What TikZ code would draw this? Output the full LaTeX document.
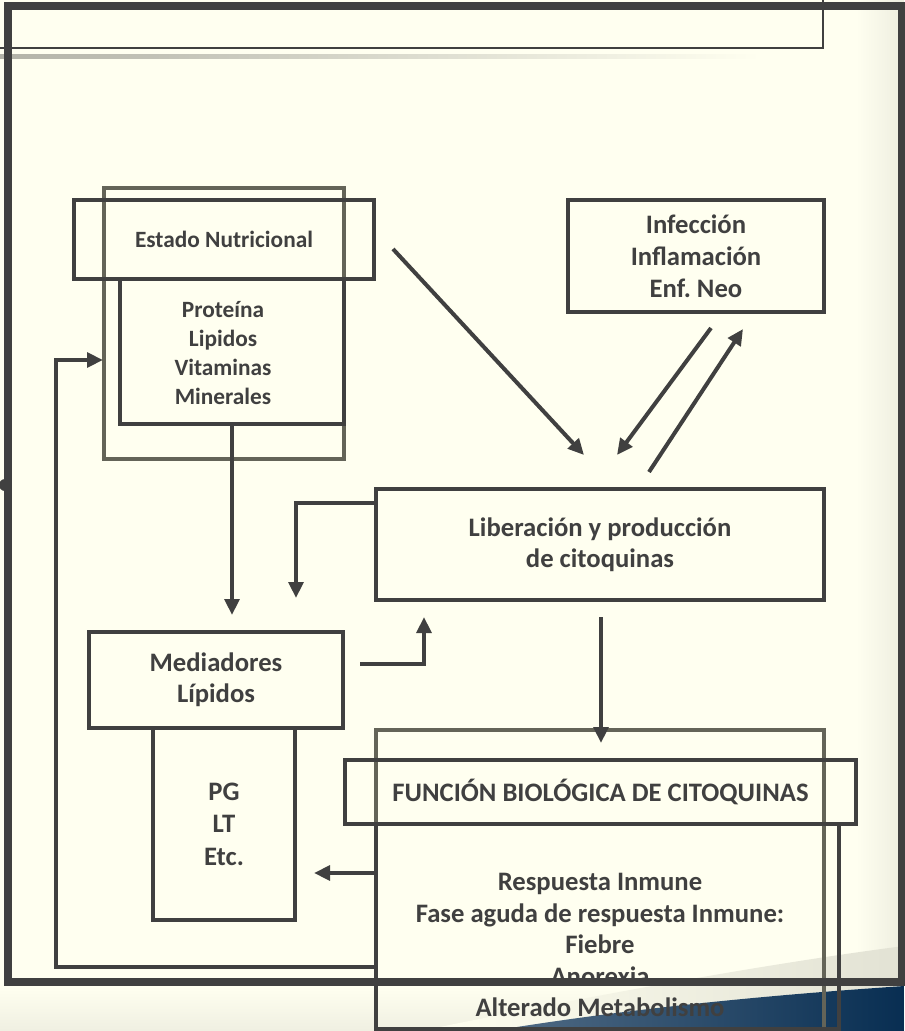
\documentclass[tikz,border=0pt]{standalone}
\usepackage{fontspec}
\setmainfont{Carlito}
\usetikzlibrary{arrows.meta}
\definecolor{cream}{RGB}{255,255,240}
\definecolor{linedark}{RGB}{64,64,64}
\definecolor{boxgrey}{RGB}{100,100,88}
\definecolor{navy}{RGB}{8,46,82}
\definecolor{sheen}{RGB}{226,226,212}

\begin{document}
\begin{tikzpicture}[
      x=0.75pt, y=-0.75pt,
      darkbox/.style={
         rectangle,
         draw=linedark,
         line width=3pt,
         inner sep=0pt,
         align=center,
         text=linedark,
         font=\fontsize{20}{23.25}\selectfont\bfseries
      },
      greybox/.style={
         rectangle,
         draw=boxgrey,
         line width=3pt,
         inner sep=0pt
      },
      textskip/.style={font=\fontsize{20}{#1}\selectfont\bfseries},
      smalltext/.style={font=\fontsize{17.5}{#1}\selectfont\bfseries},
      flow/.style={draw=linedark, line width=3pt, -{Triangle[length=12pt,width=11pt]}},
      frameline/.style={draw=linedark, line width=6pt}
    ]
    \useasboundingbox (0,0) rectangle (904,1031);
    % slide background
    \fill[cream] (0,0) rectangle (904,1031);
    \shade[left color=cream, right color=black!7!cream] (856,0) rectangle (904,1031);
    \shade[top color=cream, bottom color=black!6!cream] (0,986) rectangle (904,1031);
    \shade[left color=black!30!cream, right color=cream] (0,55) rectangle (760,59);
    \shade[left color=cream, right color=sheen]
       (420,1031) .. controls (620,990) and (780,962) .. (904,946)
       -- (904,986) .. controls (800,993) and (650,1005) .. (492,1031) -- cycle;
    \shade[left color=navy!70!white, right color=navy]
       (492,1031) .. controls (650,1005) and (800,993) .. (904,986)
       -- (904,1031) -- cycle;

    \node (nutgrey) [greybox, minimum width=180pt, minimum height=203.25pt] at (224,323.5) {};
    \node (estado) [darkbox, smalltext=21.75, minimum width=225pt, minimum height=59.25pt] at (224,239.5)
       {Estado Nutricional};
    \node (protein) [darkbox, minimum width=168pt, minimum height=108.75pt] at (232,351.5) {};
    \node (proteintext) [darkbox, draw=none, smalltext=21.75] at (223,353)
       {Proteína\\Lipidos\\Vitaminas\\Minerales};
    \node (infec) [darkbox, textskip=24, minimum width=192pt, minimum height=84pt] at (696,256)
       {Infección\\Inflamación\\Enf.\ Neo};
    \node (liber) [darkbox, minimum width=336pt, minimum height=83.25pt] at (600,544.5)
       {Liberación y producción\\de citoquinas};
    \node (mediad) [darkbox, minimum width=190.5pt, minimum height=72pt] at (216,680) {Mediadores\\Lípidos};
    \node (pglt) [darkbox, textskip=24.4, minimum width=106.5pt, minimum height=144pt] at (224,824) {PG\\LT\\Etc.};
    \node (funcgrey) [greybox, minimum width=336pt, minimum height=229.5pt] at (600,883) {};
    \node (functitle) [darkbox, minimum width=383.25pt, minimum height=48pt] at (600.5,792)
       {FUNCIÓN BIOLÓGICA DE CITOQUINAS};
    \node (funcbody) [darkbox, minimum width=347.25pt, minimum height=153.75pt] at (607.5,926.5) {};
    \node (functext) [darkbox, draw=none, textskip=23.6] at (600,945)
       {Respuesta Inmune\\Fase aguda de respuesta Inmune:\\Fiebre\\Anorexia\\Alterado Metabolismo};

    \coordinate (diagA) at (393,249);
    \coordinate (diagB) at (584,455);
    \coordinate (diagC) at (711,328);
    \coordinate (diagD) at (617,455);
    \coordinate (diagE) at (649,472);
    \coordinate (diagF) at (743,329);
    \coordinate (medTip) at (232,615);
    \coordinate (liberL) at (376,503);
    \coordinate (medTipR) at (296,598);
    \coordinate (medR) at (360,664);
    \coordinate (liberTip) at (424,617);
    \coordinate (liberOut) at (601,617);
    \coordinate (funcTip) at (601,743);
    \coordinate (pgTip) at (314,873);
    \coordinate (loopC) at (56,967);
    \coordinate (nutTip) at (103,360);

    \draw[flow] (diagA) -- (diagB);
    \draw[flow] (diagC) -- (diagD);
    \draw[flow] (diagE) -- (diagF);
    \draw[flow] (protein.south) -- (medTip);
    \draw[flow] (liberL) -| (medTipR);
    \draw[flow] (medR) -| (liberTip);
    \draw[flow] (liberOut) -- (funcTip);
    \draw[flow] (funcbody.west |- pgTip) -- (pgTip);
    \draw[flow] (funcbody.west |- loopC) -- (loopC) |- (nutTip);

    % slide frame and title box
    \draw[linedark, line width=1.5pt] (-5,-5) rectangle (823,48);
    \draw[frameline] (8,6) rectangle (902,982);
    \fill[linedark] (5,485) circle[radius=4.5pt];
\end{tikzpicture}
\end{document}
